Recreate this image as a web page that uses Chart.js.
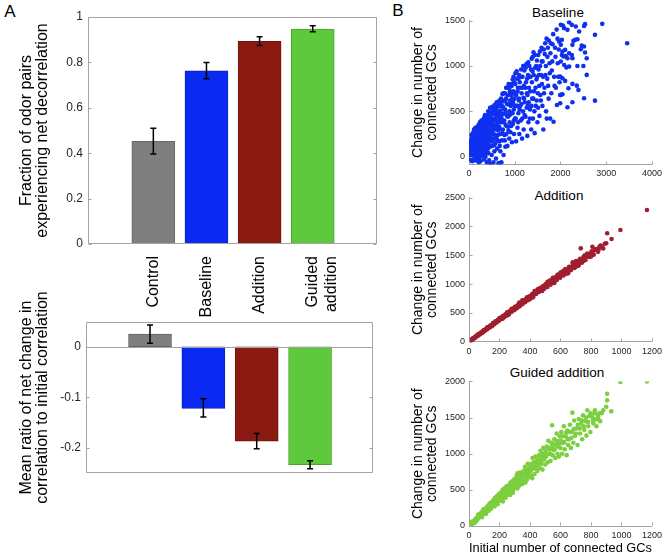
<!DOCTYPE html>
<html>
<head>
<meta charset="utf-8">
<script src="https://cdn.jsdelivr.net/npm/chart.js@4.4.1/dist/chart.umd.min.js"></script>
<style>
  body { margin: 0; background: #fff; width: 666px; height: 557px; position: relative; overflow: hidden;
         font-family: "Liberation Sans", Arial, sans-serif; }
  .wrap { position: absolute; }
  .lbl { position: absolute; color: #000; white-space: nowrap; transform: translate(-50%, -50%); }
</style>
</head>
<body>
<div class="lbl" style="left:10px;top:12px;font-size:17px">A</div>
<div class="lbl" style="left:398px;top:11px;font-size:17px">B</div>
<div class="lbl" style="left:558px;top:12px;font-size:13.5px">Baseline</div>
<div class="lbl" style="left:559px;top:195px;font-size:13.5px">Addition</div>
<div class="lbl" style="left:557px;top:372px;font-size:13.5px">Guided addition</div>

<div class="wrap" style="left:0;top:0;width:395px;height:320px"><canvas id="fracChart"></canvas></div>
<div class="wrap" style="left:0;top:290px;width:395px;height:267px"><canvas id="ratioChart"></canvas></div>
<div class="wrap" style="left:400px;top:0;width:266px;height:185px"><canvas id="baseChart"></canvas></div>
<div class="wrap" style="left:400px;top:185px;width:266px;height:187px"><canvas id="addChart"></canvas></div>
<div class="wrap" style="left:400px;top:372px;width:266px;height:185px"><canvas id="guidChart"></canvas></div>

<script>
// ---- panel A data
const categories = ["Control", "Baseline", "Addition", ["Guided", "addition"]];
const fractionMean = [0.452, 0.763, 0.893, 0.947];
const fractionLow = [0.397, 0.728, 0.874, 0.935];
const fractionHigh = [0.51, 0.80, 0.913, 0.961];
const ratioMean = [0.025, -0.122, -0.187, -0.2335];
const ratioLow = [0.007, -0.139, -0.202, -0.2414];
const ratioHigh = [0.043, -0.103, -0.172, -0.2256];
const fractionTicks = [0, 0.2, 0.4, 0.6, 0.8, 1];
const ratioTicks = [-0.2, -0.1, 0];

// ---- panel B data: [initial connected GCs, change in connected GCs]
const baselinePts = [
  [10,5],[15,40],[20,-20],[25,80],[30,20],[35,110],[40,-40],[45,60],[50,150],[55,10],[60,90],[65,-10],[70,130],[75,40],[80,200],[85,70],[90,-30],[95,110],[55,240],[85,170],
  [100,30],[105,140],[110,-20],[115,90],[120,200],[125,50],[130,250],[135,0],[140,120],[145,170],[150,-40],[155,80],[160,220],[165,30],[170,280],[175,130],[180,-10],[185,190],[190,60],[195,240],[110,300],[140,320],[160,110],[185,330],[195,150],
  [200,100],[205,20],[210,260],[215,170],[220,-30],[225,330],[230,70],[235,210],[240,380],[245,140],[250,-50],[255,290],[260,50],[265,190],[270,400],[275,120],[280,240],[285,10],[290,340],[295,180],[215,-60],[245,260],[265,310],[285,90],[300,220],
  [305,300],[310,40],[315,410],[320,150],[325,250],[330,-30],[335,370],[340,200],[345,90],[350,460],[355,310],[360,0],[365,180],[370,400],[375,260],[380,120],[385,350],[390,-60],[395,230],[340,440],[375,60],[398,320],
  [405,420],[410,150],[415,270],[420,500],[425,40],[430,340],[435,210],[440,-40],[445,460],[450,300],[455,110],[460,540],[465,380],[470,-80],[475,240],[480,430],[485,170],[490,330],[495,20],[498,480],
  [505,270],[510,550],[515,120],[520,390],[530,200],[535,-60],[540,480],[550,330],[555,60],[560,570],[565,240],[570,420],[575,150],[580,520],[585,300],[590,-20],[595,450],[598,200],
  [605,600],[610,350],[615,90],[625,480],[630,240],[640,560],[645,-70],[650,400],[660,170],[665,620],[670,310],[680,510],[685,60],[690,440],[695,250],[700,640],
  [705,380],[715,560],[720,180],[730,690],[740,300],[745,470],[755,20],[760,610],[770,400],[775,240],[785,700],[790,520],[795,110],[800,350],[708,-60],
  [810,640],[815,250],[825,760],[830,450],[840,120],[850,580],[855,330],[865,800],[870,680],[880,200],[885,500],[890,380],[895,720],[900,620],
  [905,270],[915,800],[920,480],[930,680],[940,160],[945,580],[955,850],[960,360],[970,720],[980,520],[985,250],[990,820],[998,640],
  [1005,420],[1015,920],[1020,700],[1030,170],[1040,560],[1050,860],[1060,320],[1070,760],[1080,480],[1090,620],[1095,900],[1100,250],
  [1110,820],[1120,560],[1130,400],[1140,960],[1150,700],[1160,200],[1170,880],[1180,500],[1190,650],[1195,300],[1200,780],
  [1210,950],[1220,600],[1235,440],[1245,820],[1255,1020],[1265,700],[1275,230],[1285,560],[1290,900],[1298,380],
  [1310,760],[1320,1000],[1335,520],[1345,880],[1360,300],[1370,1080],[1380,640],[1390,940],[1398,420],
  [1410,1150],[1420,720],[1435,260],[1445,980],[1460,560],[1475,850],[1485,1060],[1495,380],
  [1505,700],[1515,1120],[1530,900],[1540,450],[1555,1000],[1570,620],[1585,1200],[1595,800],
  [1610,1050],[1625,300],[1640,700],[1655,1130],[1670,900],[1685,500],[1695,1300],
  [1710,860],[1725,1200],[1740,640],[1760,1030],[1775,420],[1790,1250],
  [1810,950],[1826,1239],[1848,386],[1870,780],[1890,1100],
  [1922,570],[1935,1300],[1950,880],[1970,1268],[1993,680],
  [1993,589],[2043,688],[2007,681],[2102,835],[1993,882],[2043,865],[2152,545],[2261,600],[2174,754],[2261,802],
  [2356,783],[2392,736],[2515,644],[2573,901],[2573,1085],[2537,1147],[2500,1000],[2370,1000],[2443,1184],[2465,1224],
  [2515,1213],[2320,1287],[2370,1294],[2283,1276],[2261,1232],[2189,1140],[2247,1121],[2117,1110],[2066,1104],[2030,1121],
  [2102,1177],[2043,1158],[2152,1085],[2261,1085],[2130,982],[2189,993],[2080,1011],[2007,1048],[2007,1232],[2189,1482],
  [2247,1452],[2334,1434],[2407,1379],[2537,1460],[2515,1440],[2080,1416],[2152,1397],[2007,1452],[2052,1445],[2030,1287],
  [2913,1463],[3457,1250],[2754,1342],[2754,618],
  [5,-10],[12,60],[18,0],[22,120],[28,-30],[33,30],[38,170],[42,90],[48,-5],[52,50],[58,200],[62,130],[68,20],[72,-50],[78,100],[82,260],[88,40],[92,180],[98,-10],
  [102,230],[108,70],[112,150],[118,10],[122,280],[128,110],[132,180],[138,-20],[142,60],[148,230],[152,140],[158,-10],[162,300],[168,90],[172,170],[178,40],[182,250],[188,120],[192,310],[198,20],
  [202,180],[208,350],[212,60],[218,240],[222,120],[228,290],[232,-10],[238,160],[242,320],[248,80],[252,220],[258,370],[262,130],[268,270],[272,30],[278,200],[282,310],[288,150],[292,260],[298,60],
  [302,380],[308,180],[312,280],[318,100],[322,350],[328,220],[332,420],[338,130],[342,300],[348,20],[352,240],[358,380],[362,100],[368,300],[372,200],[378,430],[382,50],[388,280],[392,170],[398,400],
  [402,260],[412,380],[418,90],[428,460],[432,280],[442,170],[448,400],[458,320],[462,210],[472,490],[478,330],[488,120],[492,420],[502,350],[508,180],[518,470],[522,300],[532,520],[538,250],[548,410],
  [552,130],[562,350],[568,490],[578,220],[582,400],[592,530],[598,330],[608,450],[612,190],[622,560],[628,380],[638,290],[642,470],[652,600],[658,330],[668,430],[672,120],[678,560],[688,380],[692,600],[698,480],
  [712,420],[722,620],[732,260],[742,550],[752,700],[762,380],[772,520],[782,180],[792,620],[802,480],[812,760],[822,340],[832,580],[842,680],[852,440],[862,290],[872,580],[882,760],[892,460],[902,700],
  [912,560],[922,340],[932,780],[942,640],[952,480],[962,600],[972,880],[982,400],[992,700],[1002,560],[1012,800],[1022,420],[1032,680],[1042,940],[1052,560],[1062,720],[1072,380],[1082,860],[1092,640],
  [1105,520],[1125,760],[1135,880],[1145,580],[1165,420],[1175,760],[1185,1000],[1205,640],[1215,460],[1230,760],[1240,980],[1260,540],[1270,860],[1280,680],[1295,1040],[1305,600],[1315,880],[1330,420],
  [1340,720],[1355,960],[1365,560],[1375,820],[1395,1100],[1405,640],[1415,900],[1430,500],[1440,1120],[1455,760],[1470,1000],[1480,620],[1490,880],[1510,540],[1520,960],[1535,780],[1550,1160],[1560,680],
  [1575,900],[1590,1050],[1605,560],[1620,880],[1635,1180],[1650,760],[1665,1250],[1680,1000],[1700,420],[1715,1100],[1730,780],[1745,1280],[1765,920],[1780,1140],[1800,700],[1820,1050],[1840,1350],
  [1860,880],[1880,1200],[1900,760],[1915,1400],[1940,1030],[1960,1180],[1980,820]
];

const additionPts = [
  [3,5],[8,18],[12,20],[15,32],[20,36],[24,50],[28,52],[32,66],[36,64],[40,80],[44,86],[48,92],[52,102],[56,108],[60,118],[64,122],[68,132],[72,138],
  [76,150],[80,152],[85,164],[90,176],[95,180],[100,196],[105,200],[110,214],[115,222],[120,228],[125,244],[130,248],[135,262],[140,270],[145,276],
  [150,294],[155,296],[160,314],[165,318],[170,330],[175,340],[180,344],[185,362],[190,364],[195,376],[200,388],[205,392],[210,408],[215,412],
  [220,428],[225,430],[230,446],[235,450],[240,468],[245,470],[250,482],[256,498],[262,500],[268,522],[274,524],[280,538],[286,556],[292,560],
  [298,578],[304,584],[310,604],[316,606],[322,626],[328,628],[334,650],[340,652],[346,670],[352,684],[358,690],[364,712],[370,712],[376,734],
  [382,738],[390,762],[398,770],[406,790],[414,796],[420,822],[428,826],[436,850],[444,852],[452,876],[460,880],[468,906],[476,904],[484,934],
  [492,938],[500,962],[510,970],[520,1002],[530,1010],[540,1044],[550,1046],[560,1082],[570,1086],[580,1118],[590,1120],[600,1156],[612,1164],
  [624,1206],[636,1210],[648,1250],[660,1254],[672,1296],[684,1296],[696,1336],[708,1344],[720,1384],[732,1388],[744,1430],[756,1434],[768,1474],
  [780,1484],[795,1524],[810,1540],[825,1590],[840,1594],[855,1644],[870,1650],[900,1708],
  [420,770],[350,700],[515,1040],[640,1180],[700,1390],[580,1160],[260,470],[160,330],[460,920],[750,1400],[300,600],[380,770],[540,1010],[620,1230],
  [10,26],[18,28],[26,58],[34,58],[42,72],[50,108],[58,104],[66,136],[74,130],[82,168],[88,160],[96,196],[104,188],[112,226],[118,212],[126,252],
  [134,244],[142,286],[148,272],[158,320],[166,304],[174,352],[182,334],[190,380],[198,366],[206,416],[214,396],[222,444],[230,424],[238,472],
  [246,452],[254,508],[262,484],[270,536],[278,516],[288,572],[296,548],[306,610],[314,580],[324,648],[332,614],[342,684],[350,650],[360,718],
  [368,686],[378,752],[386,720],[396,790],[404,758],[414,828],[422,794],[432,862],[440,830],[450,898],[458,862],[468,934],[476,890],[486,964],
  [494,920],[504,1000],[514,950],[524,1040],[534,990],[546,1080],[556,1030],[566,1120],[576,1070],[588,1166],[598,1110],[610,1210],[620,1150],
  [632,1260],[644,1200],[656,1300],[668,1240],[680,1350],[692,1280],[704,1400],[716,1320],[728,1440],[740,1370],[752,1480],[764,1420],[776,1530],
  [790,1470],[804,1570],[818,1510],[832,1610],[846,1560],[862,1670],[880,1620],[890,1700],
  [150,270],[200,410],[250,510],[300,560],[330,680],[400,740],[450,910],[480,880],[530,1060],[560,1020],[600,1200],[650,1190],[680,1380],
  [720,1330],[760,1500],[800,1480],[850,1600],[120,250],[90,160],[60,130],[180,360],[220,400],[280,570],[350,720],[380,740],[430,880],
  [500,990],[550,1110],[620,1180],[700,1300],
  [906,1882],[935,1783],[993,1939],[1167,2286],[733,1621],[809,1649]
];

const guidedPts = [
  [5,8],[10,25],[14,12],[18,40],[22,30],[26,55],[30,45],[34,70],[38,60],[42,90],[46,75],[50,105],[20,60],[40,50],
  [54,95],[58,130],[62,110],[66,150],[70,125],[74,170],[78,140],[82,190],[86,150],[90,210],[94,165],[98,200],[60,160],[85,120],[95,230],
  [102,180],[106,230],[110,200],[115,260],[120,215],[124,280],[128,240],[132,300],[136,250],[140,320],[144,270],[148,300],[112,170],[130,210],[145,240],
  [152,330],[156,280],[160,360],[165,300],[170,390],[174,320],[178,350],[182,410],[186,330],[190,380],[194,440],[198,360],[168,270],[188,300],
  [203,400],[207,460],[212,350],[216,430],[220,500],[225,380],[229,450],[233,520],[238,410],[242,470],[246,550],[250,430],[222,340],[240,390],
  [255,500],[259,560],[263,440],[268,520],[272,600],[277,480],[281,550],[285,620],[290,500],[294,580],[298,650],[270,430],[288,460],
  [304,560],[308,640],[313,700],[317,520],[322,600],[326,680],[331,560],[336,740],[340,620],[345,700],[349,580],[318,730],
  [354,680],[358,760],[362,620],[367,820],[371,700],[376,780],[380,640],[385,860],[389,720],[394,800],[398,680],[370,600],
  [404,760],[408,860],[412,700],[417,940],[421,800],[426,880],[430,720],[435,960],[439,820],[444,900],[448,760],[415,660],
  [455,860],[460,980],[464,800],[469,1040],[473,900],[478,960],[482,780],[487,1080],[491,920],[496,1000],[500,850],
  [505,960],[510,1100],[515,880],[520,1180],[525,1000],[530,1060],[535,900],[540,1150],[545,1393],[548,980],
  [555,1050],[560,1200],[565,940],[570,1120],[575,1280],[580,1000],[585,1170],[590,960],[595,1240],[600,1080],
  [605,1300],[610,1000],[616,1150],[622,1380],[628,1060],[634,1240],[640,980],[645,1320],[650,1120],
  [656,1200],[662,1400],[668,1080],[674,1300],[678,1568],[684,1150],[690,1460],[696,1250],
  [706,1350],[712,1120],[720,1480],[728,1280],[735,1420],[742,1200],[748,1530],
  [756,1330],[764,1450],[770,1250],[776,1600],[782,1380],[790,1520],[796,1300],
  [809,1508],[815,1420],[822,1560],[830,1476],[836,1380],[845,1540],[848,1508],
  [860,1450],[870,1560],[906,1830],[906,1738],[933,1586],
  [8,30],[16,20],[24,48],[32,40],[44,100],[52,80],[64,120],[72,160],[80,130],[88,180],[96,190],[104,210],[108,170],[118,240],[126,220],[134,280],
  [142,250],[150,310],[158,300],[162,330],[172,350],[176,300],[184,380],[192,350],[196,400],[205,370],[214,420],[218,470],[227,420],[235,480],
  [244,440],[248,500],[257,470],[261,530],[266,480],[275,560],[283,520],[292,600],[296,540],[302,600],[311,580],[315,650],[324,640],[333,620],
  [338,700],[347,650],[352,720],[360,700],[365,740],[374,690],[383,760],[387,700],[396,760],[402,820],[410,780],[419,860],[428,800],[437,880],
  [446,830],[452,920],[462,880],[466,940],[476,860],[485,1000],[494,950],[502,1040],[512,990],[522,1080],[532,1000],[542,1090],[552,1130],
  [562,1060],[572,1180],[582,1100],[592,1140],[602,1180],[612,1240],[624,1160],[636,1290],[648,1200],[660,1300],[672,1220],[686,1340],[700,1280],
  [714,1400],[726,1350],[740,1460],[752,1380],[768,1500],[780,1440],[798,1560],[812,1460],[826,1600],[840,1480],[856,1560],[880,1600],[900,1650],
  [993,1991],[1167,2000]
];

Chart.defaults.font.family = '"Liberation Sans", Arial, sans-serif';
Chart.defaults.animation = false;

const barColors = ["#7f7f7f", "#0a2af2", "#8b1a13", "#5ec93c"];
const barEdges = ["#666666", "#0a20c0", "#6e140f", "#4aa530"];
const frameColor = "#a3a3a3";

function makeErrorBars(low, high) {
  return {
    id: "errorBars",
    afterDatasetsDraw(chart) {
      const { ctx, scales: { x, y } } = chart;
      ctx.save();
      ctx.strokeStyle = "#000";
      ctx.lineWidth = 1.5;
      low.forEach((lo, i) => {
        const px = x.getPixelForValue(i + 1);
        const y1 = y.getPixelForValue(lo);
        const y2 = y.getPixelForValue(high[i]);
        ctx.beginPath();
        ctx.moveTo(px, y1); ctx.lineTo(px, y2);
        ctx.moveTo(px - 3, y1); ctx.lineTo(px + 3, y1);
        ctx.moveTo(px - 3, y2); ctx.lineTo(px + 3, y2);
        ctx.stroke();
      });
      ctx.restore();
    }
  };
}

// box round the bar panels, inward ticks, optional zero line
function makeFrame(box, zeroLine) {
  return {
    id: "frame",
    afterDraw(chart) {
      const { ctx, scales: { x, y } } = chart;
      const L = Math.round(x.left) + 0.5, R = Math.round(x.right) - 0.5;
      const T = Math.round(y.top) + 0.5, B = Math.round(y.bottom) - 0.5;
      ctx.save();
      ctx.strokeStyle = frameColor;
      ctx.lineWidth = 1;
      ctx.beginPath();
      if (box) {
        ctx.rect(L, T, R - L, B - T);
      }
      y.ticks.forEach((t) => {
        const py = Math.round(y.getPixelForValue(t.value)) + 0.5;
        ctx.moveTo(L, py); ctx.lineTo(L + 3, py);
        if (box) { ctx.moveTo(R, py); ctx.lineTo(R - 3, py); }
      });
      if (!box) {
        x.ticks.forEach((t) => {
          const px = Math.round(x.getPixelForValue(t.value)) + 0.5;
          ctx.moveTo(px, B); ctx.lineTo(px, B - 3);
        });
      }
      if (zeroLine) {
        const pz = Math.round(y.getPixelForValue(0)) + 0.5;
        ctx.moveTo(L, pz); ctx.lineTo(R, pz);
      }
      ctx.stroke();
      ctx.restore();
    }
  };
}

function barChart(id, means, low, high, yMin, yMax, yTicks, yTitle, xMin, xMax, pad, showLabels) {
  new Chart(document.getElementById(id), {
    type: "bar",
    data: {
      datasets: [{
        data: means.map((v, i) => ({ x: i + 1, y: v })),
        backgroundColor: barColors,
        borderColor: barEdges,
        borderWidth: 1,
        borderSkipped: false,
        barThickness: 43
      }]
    },
    options: {
      responsive: true,
      maintainAspectRatio: false,
      layout: { autoPadding: false, padding: pad },
      plugins: { legend: { display: false }, tooltip: { enabled: false } },
      scales: {
        x: {
          type: "linear",
          display: showLabels,
          offset: false,
          min: xMin,
          max: xMax,
          grid: { display: false, drawTicks: false, offset: false },
          border: { display: false },
          afterBuildTicks: (s) => { s.ticks = categories.map((c, i) => ({ value: i + 1 })); },
          afterFit: (s) => { s.height = 76; },
          ticks: {
            autoSkip: false, minRotation: 90, maxRotation: 90, padding: 12,
            color: "#000", font: { size: 16 },
            callback: (v) => categories[v - 1]
          }
        },
        y: {
          min: yMin,
          max: yMax,
          grid: { display: false, drawTicks: false },
          border: { display: false },
          afterBuildTicks: (s) => { s.ticks = yTicks.map((v) => ({ value: v })); },
          afterFit: (s) => { s.width = pad.yWidth; },
          ticks: { padding: 5, color: "#262626", font: { size: 12 }, callback: (v) => String(v) },
          title: {
            display: true, text: yTitle, color: "#000",
            font: { size: 16, lineHeight: 1 }, padding: { top: 19, bottom: 0 }
          }
        }
      }
    },
    plugins: [makeFrame(true, !showLabels), makeErrorBars(low, high)]
  });
}

barChart("fracChart", fractionMean, fractionLow, fractionHigh, 0, 1, fractionTicks,
  ["Fraction of odor pairs", "experiencing net decorrelation"], -0.23, 5.21,
  { top: 17, right: 18, left: 0, bottom: 0, yWidth: 88 }, true);

barChart("ratioChart", ratioMean, ratioLow, ratioHigh, -0.25, 0.049, ratioTicks,
  ["Mean ratio of net change in", "correlation to initial correlation"], -0.2, 5.18,
  { top: 32, right: 22, left: 0, bottom: 8, yWidth: 86 }, false);

function scatterChart(id, pts, color, xMax, xStep, yMin, yMax, yTicks, padTop, xHeight, xTitle) {
  new Chart(document.getElementById(id), {
    type: "scatter",
    data: {
      datasets: [{
        data: pts.map((p) => ({ x: p[0], y: p[1] })),
        backgroundColor: color,
        borderWidth: 0,
        pointRadius: 2.3
      }]
    },
    options: {
      responsive: true,
      maintainAspectRatio: false,
      layout: { autoPadding: false, padding: { top: padTop, right: 12.5, left: 0, bottom: 0 } },
      plugins: { legend: { display: false }, tooltip: { enabled: false } },
      scales: {
        x: {
          min: 0, max: xMax,
          grid: { display: false, drawTicks: false },
          border: { display: true, color: frameColor },
          afterFit: (s) => { s.height = xHeight; },
          ticks: { stepSize: xStep, padding: 4, color: "#262626", font: { size: 9 }, callback: (v) => String(v) },
          title: {
            display: !!xTitle, text: xTitle || "", color: "#000",
            font: { size: 13, lineHeight: 1 }, padding: { top: 0, bottom: 2.5 }
          }
        },
        y: {
          min: yMin, max: yMax,
          grid: { display: false, drawTicks: false },
          border: { display: true, color: frameColor },
          afterBuildTicks: (s) => { s.ticks = yTicks.map((v) => ({ value: v })); },
          afterFit: (s) => { s.width = 69; },
          ticks: { padding: 4, color: "#262626", font: { size: 9 }, callback: (v) => String(v) },
          title: {
            display: true, text: ["Change in number of", "connected GCs"], color: "#000",
            font: { size: 14, lineHeight: 1.03 }, padding: { top: 10.7, bottom: 0 }
          }
        }
      }
    },
    plugins: [makeFrame(false, false)]
  });
}

scatterChart("baseChart", baselinePts, "#1030f0", 4000, 1000, -85, 1500, [0, 500, 1000, 1500], 20.5, 20.5, null);
scatterChart("addChart", additionPts, "#a01e30", 1200, 200, 0, 2500, [0, 500, 1000, 1500, 2000, 2500], 12.7, 30.3, null);
scatterChart("guidChart", guidedPts, "#7ccf3e", 1200, 200, 0, 2000, [0, 500, 1000, 1500, 2000], 9, 31, "Initial number of connected GCs");
</script>
</body>
</html>
